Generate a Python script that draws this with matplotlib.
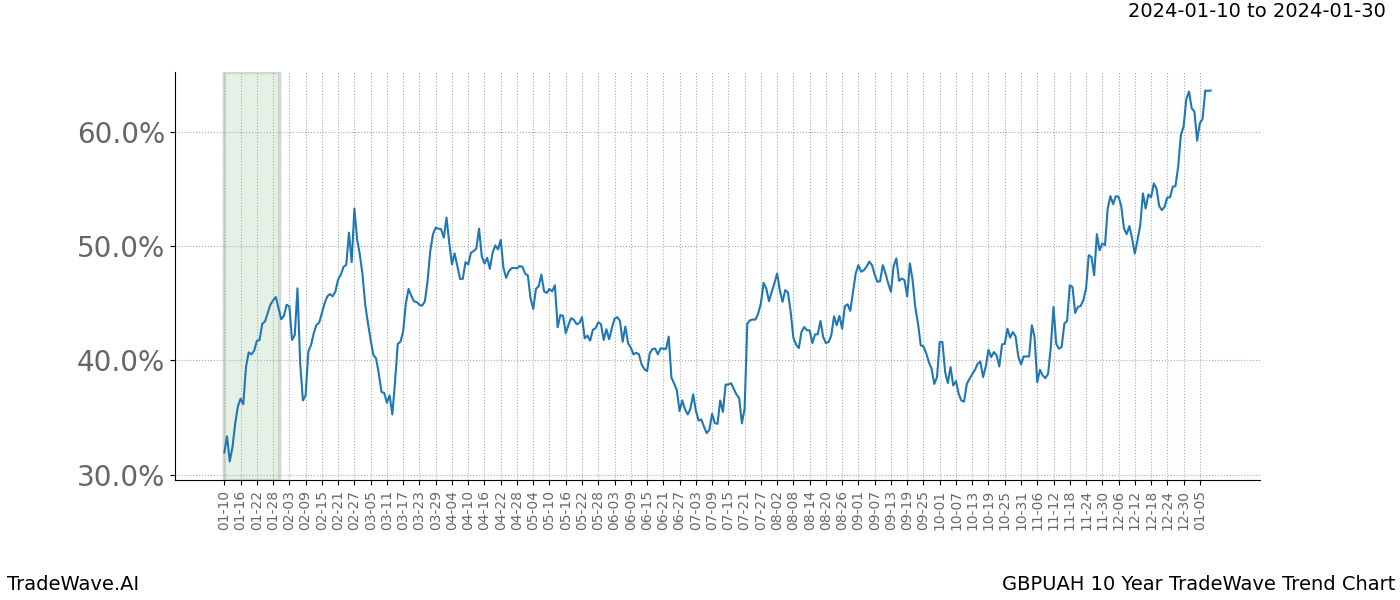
import matplotlib
matplotlib.use("Agg")
import matplotlib.pyplot as plt
import matplotlib.dates as mdates
from matplotlib.ticker import FuncFormatter
import pandas as pd

start_date = "2023-01-10"
highlight_start = "2023-01-10"
highlight_end = "2023-01-30"
tick_start = "2023-01-10"
tick_end = "2024-01-05"
tick_step = "6D"
y_ticks = [30, 40, 50, 60]

title_range = "2024-01-10 to 2024-01-30"
brand = "TradeWave.AI"
chart_name = "GBPUAH 10 Year TradeWave Trend Chart"

trend_pct = [
    31.96, 33.37, 31.17, 32.4, 34.46, 35.98, 36.66, 36.16, 39.44, 40.7,
    40.53, 40.85, 41.7, 41.79, 43.2, 43.4, 44.13, 44.87, 45.25, 45.54,
    44.57, 43.6, 43.9, 44.87, 44.72, 41.79, 42.23, 46.3, 39.74, 36.5,
    36.95, 40.76, 41.35, 42.38, 43.1, 43.3, 44.13, 45.0, 45.6, 45.8,
    45.6, 46.04, 47.07, 47.5, 48.18, 48.36, 51.17, 48.6, 53.28, 50.59,
    49.27, 47.5, 44.87, 43.26, 41.79, 40.47, 40.18, 38.86, 37.24, 37.16,
    36.3, 36.95, 35.28, 38.12, 41.44, 41.64, 42.52, 45.0, 46.25, 45.66,
    45.16, 45.1, 44.87, 44.78, 45.16, 46.92, 49.56, 51.03, 51.61, 51.52,
    51.47, 50.73, 52.49, 50.29, 48.39, 49.35, 48.24, 47.13, 47.13, 48.59,
    48.39, 49.41, 49.56, 49.77, 51.52, 49.12, 48.47, 48.97, 48.0, 49.41,
    50.06, 49.7, 50.53, 48.09, 47.21, 47.8, 48.06, 48.09, 48.04, 48.24,
    48.18, 47.6, 47.42, 45.45, 44.49, 46.25, 46.48, 47.5, 46.04, 45.9,
    46.25, 46.04, 46.57, 42.9, 43.96, 43.9, 42.38, 43.1, 43.7, 43.55,
    43.17, 43.26, 43.78, 41.94, 42.17, 41.73, 42.67, 42.82, 43.34, 43.17,
    41.79, 42.73, 41.85, 42.82, 43.64, 43.78, 43.46, 41.64, 42.96, 41.5,
    41.11, 40.53, 40.67, 40.53, 39.65, 39.24, 39.06, 40.62, 41.0, 41.03,
    40.53, 41.06, 41.03, 41.0, 42.08, 38.5, 37.98, 37.39, 35.57, 36.51,
    35.72, 35.28, 35.78, 37.04, 35.63, 34.75, 34.84, 34.22, 33.64, 33.93,
    35.34, 34.52, 34.46, 36.5, 35.5, 37.89, 37.89, 38.01, 37.51, 37.02,
    36.7, 34.5, 35.76, 43.22, 43.51, 43.57, 43.57, 44.09, 44.97, 46.78,
    46.29, 45.18, 45.99, 46.73, 47.6, 46.14, 45.12, 46.14, 45.94, 44.24,
    41.99, 41.37, 41.08, 42.49, 42.92, 42.63, 42.63, 41.52, 42.28, 42.28,
    43.45, 42.05, 41.52, 41.61, 42.19, 43.86, 43.07, 43.89, 42.78, 44.74,
    44.91, 44.33, 45.99, 47.6, 48.33, 47.75, 47.89, 48.19, 48.63, 48.33,
    47.51, 46.87, 46.93, 48.33, 47.6, 46.73, 45.99, 48.25, 48.92, 46.96,
    47.16, 47.02, 45.61, 48.48, 47.02, 44.62, 43.22, 41.32, 41.23, 40.64,
    39.85, 39.27, 37.95, 38.54, 41.61, 41.61, 38.98, 38.01, 39.42, 37.81,
    38.19, 37.08, 36.49, 36.4, 37.95, 38.39, 38.8, 39.18, 39.71, 39.91,
    38.54, 39.47, 40.93, 40.29, 40.73, 40.44, 39.47, 41.4, 41.46, 42.77,
    41.99, 42.48, 42.1, 40.35, 39.65, 40.35, 40.35, 40.35, 43.07, 42.04,
    38.1, 39.18, 38.69, 38.45, 38.83, 41.17, 44.67, 41.46, 41.02, 41.17,
    43.21, 43.45, 46.57, 46.42, 44.15, 44.67, 44.76, 45.26, 46.28, 49.2,
    49.05, 47.45, 51.04, 49.64, 50.22, 50.07, 53.28, 54.36, 53.66, 54.36,
    54.31, 53.49, 51.53, 51.04, 51.74, 50.66, 49.34, 50.51, 51.82, 54.6,
    53.28, 54.51, 54.25, 55.47, 55.04, 53.49, 53.14, 53.43, 54.25, 54.25,
    55.18, 55.24, 56.93, 59.71, 60.44, 62.83, 63.5, 62.04, 61.75, 59.21,
    60.73, 61.11, 63.59, 63.56, 63.59,
]

dates = pd.date_range(start_date, periods=len(trend_pct), freq="D")
tick_dates = pd.date_range(tick_start, tick_end, freq=tick_step)

fig = plt.figure(figsize=(14, 6), dpi=100)
ax = fig.add_axes([0.125, 0.2, 0.775, 0.68])

ax.axvspan(pd.Timestamp(highlight_start), pd.Timestamp(highlight_end),
           facecolor="#e6f1e6", edgecolor="#cfd8cf", linewidth=2.5, zorder=0)
ax.plot(dates, trend_pct, color="#1f77b4", linewidth=1.5, zorder=3)

ax.set_xticks(tick_dates)
ax.xaxis.set_major_formatter(mdates.DateFormatter("%m-%d"))
ax.set_yticks(y_ticks)
ax.yaxis.set_major_formatter(FuncFormatter(lambda v, p: f"{v:.1f}%"))

ax.tick_params(axis="x", labelrotation=90, labelsize=10, labelcolor="#666666")
ax.tick_params(axis="y", labelsize=20, labelcolor="#666666")

ax.grid(True, linestyle=":", color="#aaaaaa", linewidth=0.8)
ax.set_axisbelow(True)
ax.spines["top"].set_visible(False)
ax.spines["right"].set_visible(False)

fig.text(0.99, 0.965, title_range, ha="right", va="bottom", fontsize=14)
fig.text(0.005, 0.025, brand, ha="left", va="center", fontsize=14)
fig.text(0.997, 0.025, chart_name, ha="right", va="center", fontsize=14)

fig.savefig("out.png", dpi=100)
